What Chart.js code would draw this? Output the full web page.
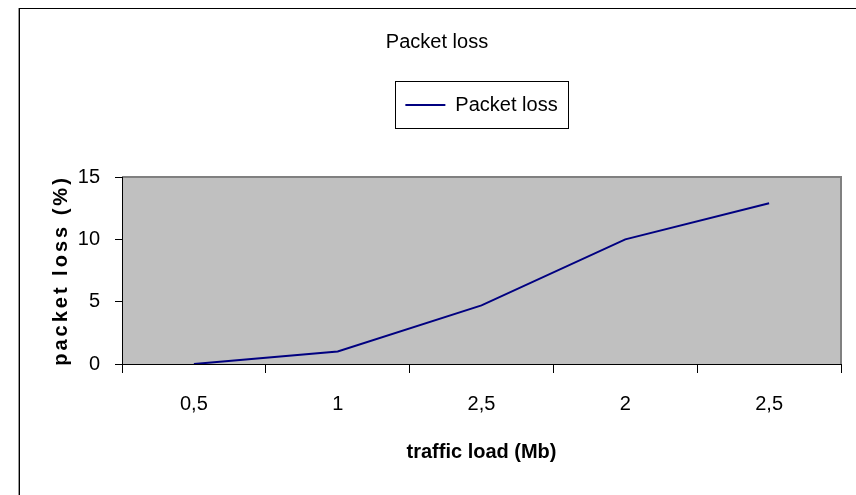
<!DOCTYPE html>
<html>
<head>
<meta charset="utf-8">
<script src="https://cdn.jsdelivr.net/npm/chart.js@4"></script>
<style>
  body { margin: 0; background: #fff; }
  #wrap { position: relative; width: 856px; height: 495px; overflow: hidden; }
  #frame { position: absolute; left: 19px; top: 8px; width: 836px; height: 520px;
           border: 1px solid #000; box-shadow: -1px 0 0 #999; }
  #myChart { position: absolute; left: 0; top: 0; }
</style>
</head>
<body>
<div id="wrap">
  <div id="frame"></div>
  <canvas id="myChart" width="856" height="495"></canvas>
</div>
<script>
// Chart data
const categories = ['0,5', '1', '2,5', '2', '2,5'];
const packetLoss = [0, 1, 4.7, 10, 12.9];
const yMin = 0;
const yMax = 15;
const yStep = 5;

Chart.defaults.font.family = '"Liberation Sans", Arial, sans-serif';
Chart.defaults.font.size = 20;
Chart.defaults.color = '#000';

// Gray plot area, legend frame and the spaced-out y title
const plotDecor = {
    id: 'plotDecor',
    beforeDraw(chart) {
        const {ctx, chartArea: a} = chart;
        ctx.save();
        ctx.fillStyle = '#c0c0c0';
        ctx.fillRect(a.left, a.top, a.right - a.left, a.bottom - a.top);
        ctx.strokeStyle = '#808080';
        ctx.lineWidth = 2;
        ctx.beginPath();
        ctx.moveTo(a.left, a.top);
        ctx.lineTo(a.right, a.top);
        ctx.lineTo(a.right, a.bottom);
        ctx.stroke();
        ctx.restore();
    },
    afterDraw(chart) {
        const {ctx, chartArea: a} = chart;
        const hb = chart.legend.legendHitBoxes[0];
        if (hb) {
            const cy = hb.top + hb.height / 2;
            ctx.save();
            ctx.strokeStyle = '#000';
            ctx.lineWidth = 1;
            ctx.strokeRect(Math.round(hb.left - 10) + 0.5, Math.round(cy - 24) + 0.5,
                Math.round(hb.width + 21), 47);
            ctx.restore();
        }
        ctx.save();
        ctx.translate(61, (a.top + a.bottom) / 2);
        ctx.rotate(-Math.PI / 2);
        ctx.font = 'bold 20px "Liberation Sans", Arial, sans-serif';
        ctx.letterSpacing = '3px';
        ctx.fillStyle = '#000';
        ctx.textAlign = 'center';
        ctx.textBaseline = 'middle';
        ctx.fillText('packet loss (%)', 0, 0);
        ctx.restore();
    }
};

const ctx = document.getElementById('myChart').getContext('2d');
const myChart = new Chart(ctx, {
    type: 'line',
    data: {
        labels: categories,
        datasets: [{
            label: 'Packet loss',
            data: packetLoss,
            borderColor: '#000080',
            backgroundColor: '#000080',
            borderWidth: 2,
            pointRadius: 0,
            tension: 0,
            fill: false
        }]
    },
    options: {
        responsive: false,
        animation: false,
        devicePixelRatio: 1,
        layout: { padding: { left: 33, right: 15, top: 0, bottom: 0 } },
        plugins: {
            title: {
                display: true,
                text: 'Packet loss',
                font: { size: 20, weight: 'normal' },
                padding: { top: 30, bottom: 31 }
            },
            legend: {
                display: true,
                position: 'top',
                fullSize: false,
                labels: {
                    boxWidth: 40,
                    boxHeight: 2,
                    padding: 10,
                    font: { size: 20 },
                    generateLabels(chart) {
                        return Chart.defaults.plugins.legend.labels.generateLabels(chart)
                            .map(l => ({ ...l, lineWidth: 0, fillStyle: '#000080' }));
                    }
                }
            },
            tooltip: { enabled: false }
        },
        scales: {
            x: {
                type: 'category',
                offset: true,
                grid: { display: true, offset: true, drawOnChartArea: false, tickLength: 9, color: '#000' },
                border: { display: true, color: '#000', width: 1 },
                ticks: { padding: 19, font: { size: 20 }, maxRotation: 0 },
                title: {
                    display: true,
                    text: 'traffic load (Mb)',
                    font: { size: 20, weight: 'bold' },
                    padding: { top: 0, bottom: 31 }
                },
                afterFit(scale) { scale.height = 131; }
            },
            gap: {
                axis: 'x',
                type: 'linear',
                position: 'top',
                display: true,
                grid: { display: false },
                border: { display: false },
                ticks: { display: false },
                afterFit(scale) { scale.height = 52; }
            },
            y: {
                min: yMin,
                max: yMax,
                ticks: { stepSize: yStep, padding: 15, font: { size: 20 } },
                grid: { display: true, drawOnChartArea: false, tickLength: 7, color: '#000' },
                border: { display: true, color: '#000', width: 1 },
                afterFit(scale) { scale.width = 89; }
            }
        }
    },
    plugins: [plotDecor]
});
</script>
</body>
</html>
